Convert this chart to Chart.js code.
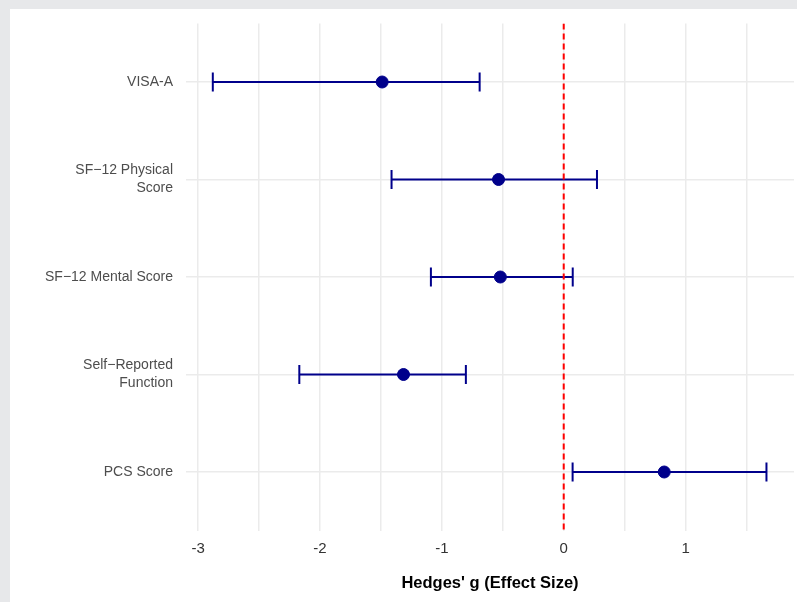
<!DOCTYPE html>
<html>
<head>
<meta charset="utf-8">
<script src="https://cdn.jsdelivr.net/npm/chart.js@4/dist/chart.umd.min.js"></script>
<style>
  html, body { margin: 0; padding: 0; background: #e7e8ea; }
  #panel { position: absolute; left: 10px; top: 9px; width: 787px; height: 593px; background: #fff; }
  canvas { display: block; }
</style>
</head>
<body>
<div id="panel"><canvas id="forest" width="787" height="593"></canvas></div>
<script>
// outcomes, top to bottom
const outcomes = [
    ["VISA-A"],
    ["SF\u221212 Physical", "Score"],
    ["SF\u221212 Mental Score"],
    ["Self\u2212Reported", "Function"],
    ["PCS Score"]
];
const hedgesG = [-1.49, -0.535, -0.52, -1.315, 0.825];
const ciLower = [-2.88, -1.413, -1.09, -2.17, 0.073];
const ciUpper = [-0.69, 0.273, 0.074, -0.803, 1.664];
const xTicks = [-3, -2.5, -2, -1.5, -1, -0.5, 0, 0.5, 1, 1.5];

const navy = '#00008b';

// one line dataset per confidence interval, caps drawn as vertical point markers
const ciSets = outcomes.map((o, i) => ({
    type: 'line',
    data: [{x: ciLower[i], y: i + 1}, {x: ciUpper[i], y: i + 1}],
    borderColor: navy,
    borderWidth: 2,
    pointStyle: 'line',
    pointRotation: 90,
    pointRadius: 9.5,
    pointBorderWidth: 2,
    pointBorderColor: navy,
    pointHoverRadius: 9.5
}));

const config = {
    type: 'scatter',
    data: {
        datasets: [
            {
                // reference line at zero
                type: 'line',
                data: [{x: 0, y: 0.4}, {x: 0, y: outcomes.length + 0.6}],
                borderColor: '#ff0000',
                borderWidth: 2,
                borderDash: [6, 4],
                pointRadius: 0
            },
            ...ciSets,
            {
                data: hedgesG.map((g, i) => ({x: g, y: i + 1})),
                backgroundColor: navy,
                borderColor: navy,
                pointRadius: 6,
                pointHoverRadius: 6
            }
        ]
    },
    options: {
        responsive: false,
        animation: false,
        events: [],
        layout: { autoPadding: false, padding: { top: 14.5, right: 3, left: 0, bottom: 0 } },
        plugins: { legend: { display: false }, tooltip: { enabled: false } },
        scales: {
            x: {
                type: 'linear',
                min: -3.1,
                max: 1.89,
                afterBuildTicks: (scale) => { scale.ticks = xTicks.map(v => ({value: v})); },
                afterFit: (scale) => {
                    scale.height = 71.5;
                    scale.paddingLeft = 0;
                    scale.paddingRight = 0;
                },
                grid: { color: '#ebebeb', lineWidth: 1.5, drawTicks: false },
                border: { display: false },
                ticks: {
                    padding: 9,
                    color: '#333',
                    font: { family: 'Liberation Sans', size: 15 },
                    callback: (v) => Number.isInteger(v) ? String(v) : ''
                },
                title: {
                    display: true,
                    text: "Hedges' g (Effect Size)",
                    color: '#000',
                    font: { family: 'Liberation Sans', size: 16.5, weight: 'bold' },
                    padding: { top: 0, bottom: 9 }
                }
            },
            y: {
                type: 'linear',
                reverse: true,
                min: 0.4,
                max: outcomes.length + 0.6,
                afterBuildTicks: (scale) => { scale.ticks = outcomes.map((o, i) => ({value: i + 1})); },
                afterFit: (scale) => {
                    scale.width = 176;
                    scale.paddingTop = 0;
                    scale.paddingBottom = 0;
                },
                grid: { color: '#ebebeb', lineWidth: 1.5, drawTicks: false },
                border: { display: false },
                ticks: {
                    padding: 13,
                    color: '#4d4d4d',
                    font: { family: 'Liberation Sans', size: 14, lineHeight: 1.3 },
                    callback: (v) => outcomes[Math.round(v) - 1]
                }
            }
        }
    }
};

const forestChart = new Chart(document.getElementById('forest'), config);
</script>
</body>
</html>
